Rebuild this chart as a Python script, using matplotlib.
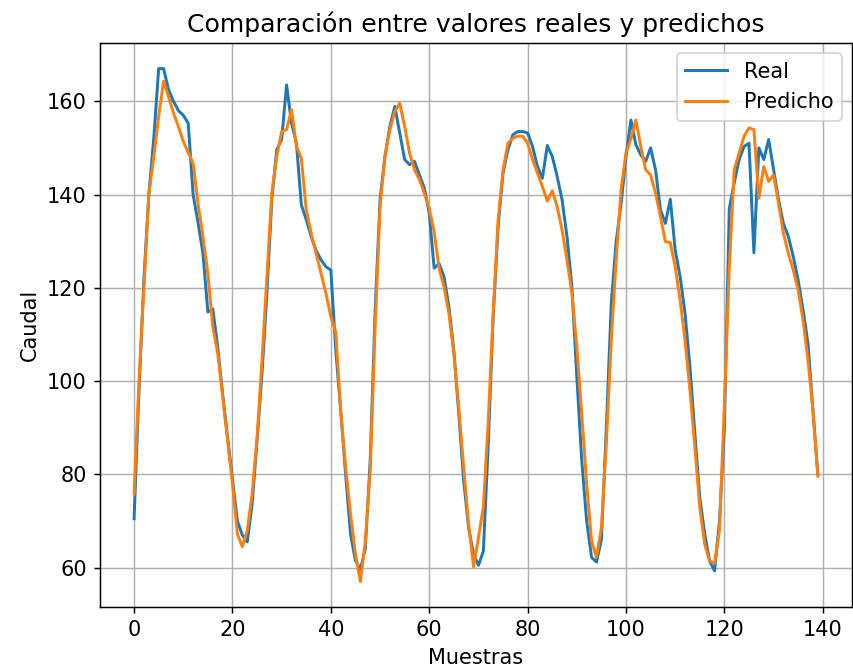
import matplotlib
matplotlib.use('Agg')
import matplotlib.pyplot as plt
import numpy as np

# valores (muestras 0..139)
real = [70.5, 98, 122, 140, 152, 167, 167, 162.5, 160, 158,
        157, 155.3, 140, 134, 127.4, 114.8, 115.5, 107.3, 97.3, 88,
        79, 70, 67, 65.5, 73.6, 87.2, 101.6, 118.8, 138.9, 149.6,
        151.8, 163.5, 155.3, 151, 137.8, 134.6, 131, 128, 126, 124.5,
        123.8, 106.6, 93.7, 80, 67.2, 61.5, 59.6, 64, 83, 115.2,
        138.9, 148.2, 154.6, 158.9, 153.2, 147.5, 146.4, 147.1, 144.2, 141.4,
        136, 124.2, 125.2, 122.4, 115.9, 106.6, 93, 78.6, 68.6, 62.9,
        60.5, 63.5, 86.6, 113.8, 133.1, 144.6, 149.6, 152.8, 153.5, 153.5,
        153.2, 150.3, 146, 143.5, 150.5, 148.2, 143.9, 138.9, 131, 120.2,
        100.9, 83, 70, 62.2, 61.2, 66, 90, 116.6, 130, 138,
        148.2, 156, 150.7, 148.5, 147.1, 150, 145.3, 136.7, 133.8, 139,
        128.1, 122.4, 114.5, 103, 88.7, 75, 67.2, 61.4, 59.3, 70,
        90, 137, 142.5, 147.5, 150.3, 151, 127.5, 150, 147.5, 151.8,
        145.3, 138.9, 133.8, 131, 126.7, 121.6, 115.2, 108, 93.7, 80]

predicho = [75.8, 100, 120, 140, 148, 156.8, 164.3, 161, 157.5, 154.6,
            151.4, 149, 146.7, 138, 131, 123, 111.6, 106, 96.6, 87,
            78, 67.2, 64.5, 67.9, 75.8, 88, 104.4, 122.4, 140.3, 148.2,
            153.5, 153.9, 158.2, 150.3, 147.8, 136.7, 131.7, 127.4, 123, 118.8,
            113.8, 110.5, 93.7, 81.5, 71.5, 62.9, 57, 65.7, 80.8, 111.6,
            137.4, 148.2, 153.9, 157.8, 159.6, 154.6, 148.9, 145.3, 143.2, 140.3,
            137, 132, 124.2, 120.2, 114.5, 105.9, 94.4, 81.5, 69.3, 60.2,
            66.4, 73, 91.5, 114.5, 134.6, 145.3, 151, 152.1, 152.5, 152.5,
            151, 147.5, 144.6, 141.7, 138.6, 140.8, 137.4, 132.4, 126, 118.8,
            107.3, 93, 78, 65.7, 62.2, 68.6, 86.6, 108.7, 126, 141,
            149, 152, 156, 150.3, 145.3, 144.2, 140.3, 135.3, 129.9, 129.7,
            124.5, 117.3, 108.7, 98, 85.8, 72.9, 65, 61.4, 61, 68,
            95, 124.5, 145.3, 148.9, 152.5, 154.3, 153.9, 139.2, 146, 142.8,
            144.2, 138.1, 131.7, 127.4, 123.8, 119.5, 113, 104.4, 93.7, 79.6]

muestras = np.arange(len(real))

plt.rcParams['font.size'] = 11.3

fig = plt.figure(figsize=(6.4, 5.03), dpi=133.4)
ax = fig.add_subplot(111)
fig.subplots_adjust(left=0.117, right=0.998, top=0.936, bottom=0.095)

ax.plot(muestras, real, label='Real', linewidth=1.6)
ax.plot(muestras, predicho, label='Predicho', linewidth=1.6)

ax.set_xlabel('Muestras')
ax.set_ylabel('Caudal')
ax.set_title('Comparación entre valores reales y predichos', fontsize=13.6)
ax.legend()
ax.grid(True)

fig.savefig('out.png', dpi=133.4)
